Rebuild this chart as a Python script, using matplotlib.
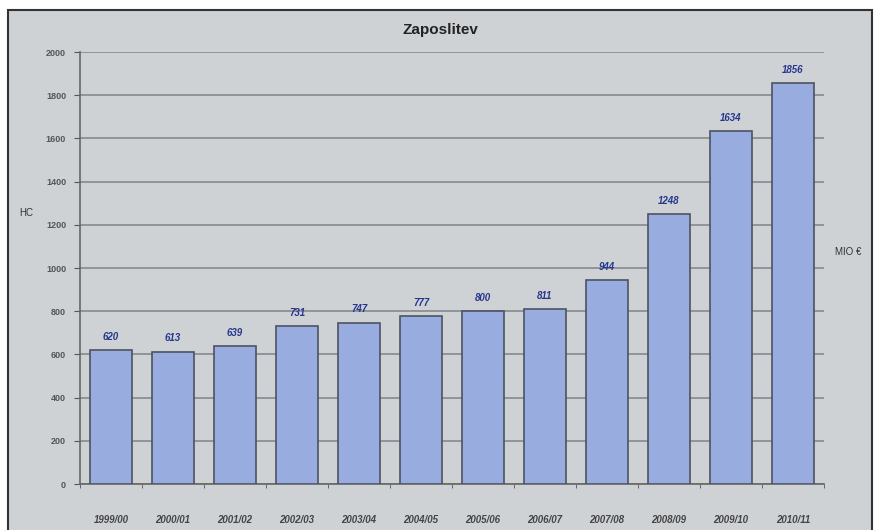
import numpy as np
import matplotlib.pyplot as plt
from matplotlib.patches import Rectangle

# podatki
leta = ["1999/00", "2000/01", "2001/02", "2002/03", "2003/04", "2004/05",
        "2005/06", "2006/07", "2007/08", "2008/09", "2009/10", "2010/11"]
vrednosti = [620, 613, 639, 731, 747, 777, 800, 811, 944, 1248, 1634, 1856]
y_ticks = [0, 200, 400, 600, 800, 1000, 1200, 1400, 1600, 1800, 2000]

plt.rcParams['font.family'] = ['Liberation Sans', 'DejaVu Sans']
bg = '#cfd2d5'

fig = plt.figure(figsize=(8.8, 5.3), dpi=100)
fig.patch.set_facecolor('white')
# okvir grafa
fig.patches.append(Rectangle((8/880, -0.01), 864/880, 1.01 - 10/530,
                             transform=fig.transFigure, facecolor=bg,
                             edgecolor='#333333', linewidth=1.5, zorder=-5))

ax = fig.add_axes([80/880, 46/530, 744/880, 432/530])
ax.set_facecolor(bg)
x = np.arange(len(leta))
bars = ax.bar(x, vrednosti, width=0.69, color='#98acdf', edgecolor='#4d5263',
              linewidth=1.2, zorder=3)
for xi, v in zip(x, vrednosti):
    ax.text(xi, v + 38, str(v), ha='center', va='bottom', fontsize=7,
            fontweight='bold', fontstyle='italic', color='#26368c')

ax.set_xlim(-0.5, len(leta) - 0.5)
ax.set_ylim(0, 2000)
ax.set_yticks(y_ticks)
ax.set_yticklabels([str(t) for t in y_ticks], fontsize=6.5, fontweight='bold',
                   color='#555555')
ax.yaxis.grid(True, color='#8c8f93', linewidth=1.3, zorder=1)
ax.set_axisbelow(True)
ax.set_xticks(x)
ax.set_xticklabels(leta, fontsize=7, fontweight='bold', fontstyle='italic',
                   color='#444444')
ax.set_xticks(np.arange(len(leta) + 1) - 0.5, minor=True)
ax.tick_params(axis='x', which='major', length=0, pad=22)
ax.tick_params(axis='x', which='minor', length=3, color='#555555')
ax.tick_params(axis='y', length=4, color='#555555', pad=6)
for s in ['top', 'right']:
    ax.spines[s].set_visible(False)
ax.spines['left'].set_color('#666666')
ax.spines['bottom'].set_color('#666666')
ax.spines['left'].set_linewidth(1.2)
ax.spines['bottom'].set_linewidth(1.2)

fig.text(440/880, 1 - 30/530, "Zaposlitev", ha='center', va='center',
         fontsize=11, fontweight='bold', color='#222222')
fig.text(26/880, 1 - 213/530, "HC", ha='center', va='center', fontsize=7,
         color='#333333')
fig.text(848/880, 1 - 252/530, "MIO €", ha='center', va='center', fontsize=7,
         color='#333333')

fig.savefig('out.png', dpi=100, facecolor=fig.get_facecolor())
